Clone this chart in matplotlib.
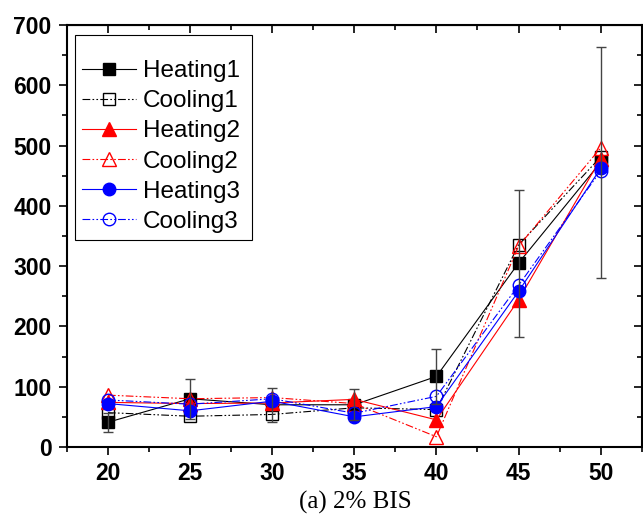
import matplotlib.pyplot as plt
from matplotlib.ticker import MultipleLocator

plt.rcParams['font.family'] = ['Liberation Sans', 'DejaVu Sans']

# data
conc = [20, 25, 30, 35, 40, 45, 50]
heating1 = [41, 80, 70, 70, 117, 305, 472]
heating1_err = [16, 33, 28, 26, 45, 122, 192]
cooling1 = [57, 51, 54, 65, 62, 335, 481]
heating2 = [74, 72, 73, 79, 45, 244, 478]
cooling2 = [86, 80, 82, 72, 17, 333, 496]
heating3 = [72, 60, 76, 50, 67, 258, 462]
cooling3 = [78, 71, 80, 56, 84, 268, 458]

fig = plt.figure(figsize=(6.43, 5.22), dpi=100)
ax = fig.add_axes([0.104, 0.1437, 0.894, 0.8085])

dashdotdot = (0, (7, 2, 1.5, 2, 1.5, 2))
ms = 8.5
lw = 0.8

ax.plot(conc, heating1, color='black', ls='-', lw=lw, marker='s', ms=ms,
        mfc='black', mec='black', label='Heating1')
ax.plot(conc, cooling1, color='black', ls=dashdotdot, lw=lw, marker='s', ms=ms,
        mfc='none', mec='black', label='Cooling1')
ax.plot(conc, heating2, color='red', ls='-', lw=lw, marker='^', ms=ms + 1,
        mfc='red', mec='red', label='Heating2')
ax.plot(conc, cooling2, color='red', ls=dashdotdot, lw=lw, marker='^', ms=ms + 1,
        mfc='none', mec='red', label='Cooling2')
ax.plot(conc, heating3, color='blue', ls='-', lw=lw, marker='o', ms=ms + 0.5,
        mfc='blue', mec='blue', label='Heating3')
ax.plot(conc, cooling3, color='blue', ls=dashdotdot, lw=lw, marker='o', ms=ms + 0.5,
        mfc='none', mec='blue', label='Cooling3')
ax.errorbar(conc, heating1, yerr=heating1_err, fmt='none', ecolor='#444444',
            elinewidth=1, capsize=3.5, capthick=1, zorder=5)

ax.set_xlim(17.5, 52.5)
ax.set_ylim(0, 700)
ax.xaxis.set_major_locator(MultipleLocator(5))
ax.xaxis.set_minor_locator(MultipleLocator(2.5))
ax.yaxis.set_major_locator(MultipleLocator(100))
ax.yaxis.set_minor_locator(MultipleLocator(50))

for s in ax.spines.values():
    s.set_linewidth(1.5)

ax.tick_params(which='both', direction='out', width=1.2, top=False, right=False)
ax.tick_params(which='major', length=6, labelsize=16.5, pad=5)
ax.tick_params(which='minor', length=3.6)
for lab in ax.get_xticklabels() + ax.get_yticklabels():
    lab.set_fontweight('bold')

# inward ticks on top and right
ax2 = ax.secondary_xaxis('top')
ax2.xaxis.set_major_locator(MultipleLocator(5))
ax2.xaxis.set_minor_locator(MultipleLocator(2.5))
ax2.tick_params(which='both', direction='in', width=1.2, labeltop=False)
ax2.tick_params(which='major', length=6)
ax2.tick_params(which='minor', length=3.6)
ay2 = ax.secondary_yaxis('right')
ay2.yaxis.set_major_locator(MultipleLocator(100))
ay2.yaxis.set_minor_locator(MultipleLocator(50))
ay2.tick_params(which='both', direction='in', width=1.2, labelright=False)
ay2.tick_params(which='major', length=6)
ay2.tick_params(which='minor', length=3.6)

leg = ax.legend(loc='upper left', bbox_to_anchor=(0.0139, 0.5, 0.3078, 0.476),
                mode='expand', fontsize=17.5,
                frameon=True, fancybox=False, edgecolor='black', framealpha=1,
                handlelength=2.2, handletextpad=0.3, borderpad=0.3,
                borderaxespad=0, labelspacing=0.33,
                title=' ', title_fontsize=8)
leg.get_frame().set_linewidth(0.8)

fig.text(0.552, 0.038, '(a) 2% BIS', ha='center', va='center',
         fontsize=18, family=['Liberation Serif', 'DejaVu Serif'])

fig.savefig('out.png', dpi=100)
